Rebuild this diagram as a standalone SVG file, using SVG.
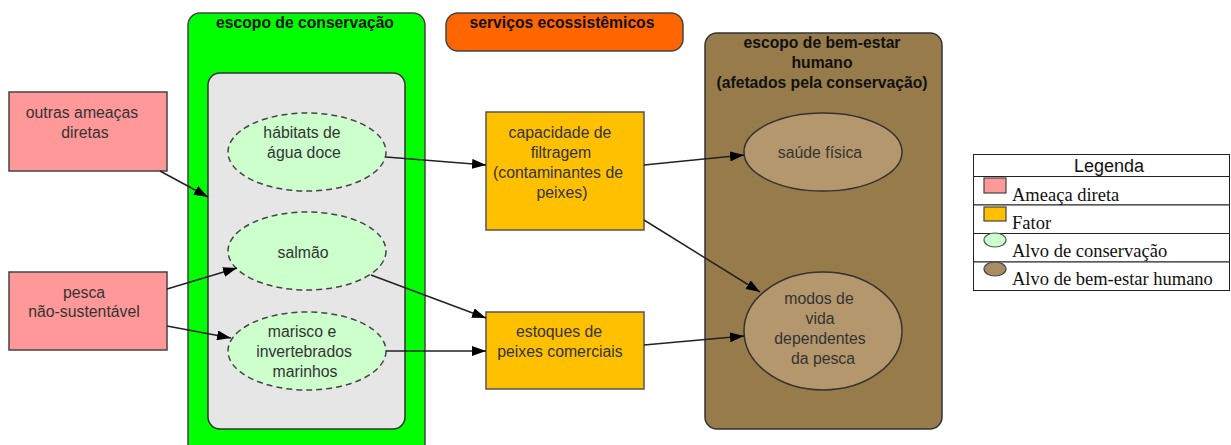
<svg xmlns="http://www.w3.org/2000/svg" width="1231" height="445" viewBox="0 0 1231 445">
<style>
text{font-family:"Liberation Sans",Arial,sans-serif;font-size:15.8px;fill:#333;text-anchor:middle}
.b{font-weight:bold;fill:#111;font-size:15.7px}
.lg{font-family:"Liberation Serif","Times New Roman",serif;font-size:18.5px;fill:#111;text-anchor:start}
.threat{fill:#FF9999;stroke:#444;stroke-width:1.5}
.factor{fill:#FFC000;stroke:#555;stroke-width:1.5}
.cons{fill:#CCFFCC;stroke:#444;stroke-width:1.5;stroke-dasharray:6 4}
.hw{fill:#B4976C;stroke:#333;stroke-width:1.5}
.edge{stroke:#222;stroke-width:1.5;fill:none;marker-end:url(#ah)}
.cell{fill:#fff;stroke:#222;stroke-width:1}
</style>
<defs>
<marker id="ah" viewBox="0 0 14 10" refX="14" refY="5" markerWidth="14" markerHeight="10" markerUnits="userSpaceOnUse" orient="auto">
<path d="M0,0 L14,5 L0,10 z" fill="#000"/>
</marker>
</defs>
<rect width="1231" height="445" fill="#fff"/>

<g id="scope-conservation">
<rect x="188" y="13" width="237" height="445" rx="12" fill="#00FF00" stroke="#444" stroke-width="1.5"/>
<text class="b" x="305" y="28">escopo de conservação</text>
<rect x="208" y="73" width="197" height="356" rx="12" fill="#E6E6E6" stroke="#333" stroke-width="1.5"/>
</g>

<g id="ecosystem-services">
<rect x="446" y="13" width="237" height="38" rx="12" fill="#FF6600" stroke="#444" stroke-width="1.5"/>
<text class="b" x="562" y="28">serviços ecossistêmicos</text>
</g>

<g id="scope-wellbeing">
<rect x="705" y="33" width="237" height="396" rx="12" fill="#977B4A" stroke="#333" stroke-width="1.5"/>
<text class="b" x="822" y="48">escopo de bem-estar</text>
<text class="b" x="822" y="68">humano</text>
<text class="b" x="822" y="88">(afetados pela conservação)</text>
</g>

<g id="outras-ameacas">
<rect class="threat" x="9" y="92" width="158" height="79"/>
<text x="82" y="118">outras ameaças</text>
<text x="85" y="138">diretas</text>
</g>

<g id="pesca">
<rect class="threat" x="9" y="272" width="158" height="78"/>
<text x="84" y="298">pesca</text>
<text x="84" y="317">não-sustentável</text>
</g>

<g id="habitats">
<ellipse class="cons" cx="307" cy="152" rx="79" ry="39"/>
<text x="302" y="138">hábitats de</text>
<text x="304" y="158">água doce</text>
</g>

<g id="salmao">
<ellipse class="cons" cx="307" cy="251" rx="79" ry="39"/>
<text x="303" y="258">salmão</text>
</g>

<g id="marisco">
<ellipse class="cons" cx="307" cy="351" rx="79" ry="39"/>
<text x="302" y="337">marisco e</text>
<text x="304" y="357">invertebrados</text>
<text x="305" y="377">marinhos</text>
</g>

<g id="capacidade">
<rect class="factor" x="486" y="112" width="158" height="118"/>
<text x="560" y="138">capacidade de</text>
<text x="561" y="158">filtragem</text>
<text x="558" y="178">(contaminantes de</text>
<text x="562" y="198">peixes)</text>
</g>

<g id="estoques">
<rect class="factor" x="486" y="312" width="158" height="77"/>
<text x="559" y="337">estoques de</text>
<text x="560" y="357">peixes comerciais</text>
</g>

<g id="saude">
<ellipse class="hw" cx="823" cy="152" rx="79" ry="39"/>
<text x="820" y="158">saúde física</text>
</g>

<g id="modos">
<ellipse class="hw" cx="823" cy="331" rx="79" ry="59"/>
<text x="819" y="304">modos de</text>
<text x="820" y="324">vida</text>
<text x="820" y="344">dependentes</text>
<text x="823" y="364">da pesca</text>
</g>

<g id="connectors">
<line class="edge" x1="160" y1="171" x2="208" y2="197"/>
<line class="edge" x1="167" y1="289" x2="237" y2="268"/>
<line class="edge" x1="167" y1="326" x2="231" y2="338"/>
<line class="edge" x1="386" y1="157" x2="486" y2="165"/>
<line class="edge" x1="371" y1="275" x2="486" y2="318"/>
<line class="edge" x1="386" y1="351" x2="486" y2="351"/>
<line class="edge" x1="644" y1="165" x2="744" y2="155"/>
<line class="edge" x1="644" y1="220" x2="760" y2="292"/>
<line class="edge" x1="644" y1="345" x2="744" y2="336"/>
</g>

<g id="legend">
<rect class="cell" x="973.5" y="154.5" width="256" height="22"/>
<rect class="cell" x="973.5" y="176.5" width="256" height="28.5"/>
<rect class="cell" x="973.5" y="205" width="256" height="28.5"/>
<rect class="cell" x="973.5" y="233.5" width="256" height="28.5"/>
<rect class="cell" x="973.5" y="262" width="256" height="28.5"/>
<text x="1109" y="172" style="font-size:18px;fill:#111">Legenda</text>
<rect x="984" y="178" width="22" height="15" fill="#FF9999" stroke="#444" stroke-width="1.2"/>
<text class="lg" x="1012" y="201">Ameaça direta</text>
<rect x="984" y="207" width="22" height="14" fill="#FFC000" stroke="#444" stroke-width="1.2"/>
<text class="lg" x="1012" y="229">Fator</text>
<ellipse cx="995" cy="240" rx="11" ry="7" fill="#CCFFCC" stroke="#555" stroke-width="1.2"/>
<text class="lg" x="1012" y="257">Alvo de conservação</text>
<ellipse cx="995" cy="269" rx="11" ry="7" fill="#A88C63" stroke="#444" stroke-width="1.2"/>
<text class="lg" x="1012" y="285">Alvo de bem-estar humano</text>
</g>
</svg>
